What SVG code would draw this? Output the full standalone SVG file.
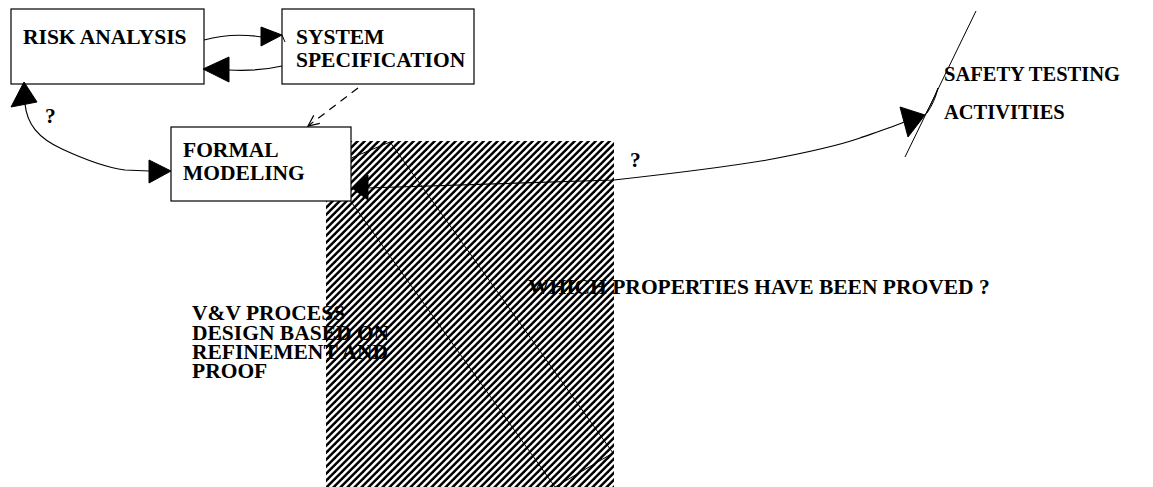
<svg xmlns="http://www.w3.org/2000/svg" width="1153" height="487" viewBox="0 0 1153 487">
  <style>
    .box { fill: #fff; stroke: #000; stroke-width: 1.2; }
    .t { font-family: "Liberation Serif", "Times New Roman", serif; font-weight: bold; font-size: 21.5px; fill: #000; }
    .ts { font-family: "Liberation Serif", "Times New Roman", serif; font-weight: bold; font-size: 20.5px; fill: #000; }
    .ln { fill: none; stroke: #000; stroke-width: 1.2; }
    .thin { fill: none; stroke: #000; stroke-width: 1; }
    .ah { fill: #000; stroke: #000; stroke-width: 1; stroke-linejoin: miter; }
    .dash { fill: none; stroke: #000; stroke-width: 1.2; stroke-dasharray: 8 6; }
  </style>
  <defs>
    <pattern id="hatch" patternUnits="userSpaceOnUse" x="0" y="0" width="7" height="7">
      <rect width="7" height="7" fill="#fff"/>
      <polygon points="0,0 3.5,0 0,3.5" fill="#000"/>
      <polygon points="7,0 7,3.5 3.5,7 0,7" fill="#000"/>
    </pattern>
    <marker id="open" markerUnits="userSpaceOnUse" markerWidth="16" markerHeight="16" refX="0" refY="0" viewBox="-14 -8 16 16" orient="auto" overflow="visible">
      <path d="M-11,-5 L0,0 L-11,5" fill="none" stroke="#000" stroke-width="1.2"/>
    </marker>
  </defs>
  <rect width="1153" height="487" fill="#fff"/>

  <g id="vv-process">
    <rect x="326" y="141" width="288" height="346" fill="url(#hatch)"/>
    <polygon points="327,168 390,142 613,453 555,487" class="thin"/>
    <text class="t" x="192" y="320">V&amp;V PROCESS</text>
    <text class="t" x="192" y="340">DESIGN BASED ON</text>
    <text class="t" x="192" y="359">REFINEMENT AND</text>
    <text class="t" x="192" y="378">PROOF</text>
  </g>

  <g id="proved-label">
    <text class="t" x="528" y="294">WHICH PROPERTIES HAVE BEEN PROVED ?</text>
  </g>

  <g id="risk-analysis">
    <rect class="box" x="11" y="9" width="193" height="75"/>
    <text class="t" x="23" y="44">RISK ANALYSIS</text>
  </g>

  <g id="system-specification">
    <rect class="box" x="282" y="9" width="192" height="75"/>
    <text class="t" x="296" y="44">SYSTEM</text>
    <text class="t" x="296" y="67">SPECIFICATION</text>
  </g>

  <g id="formal-modeling">
    <rect class="box" x="171" y="127" width="180" height="74"/>
    <text class="t" x="183" y="157">FORMAL</text>
    <text class="t" x="183" y="180">MODELING</text>
  </g>

  <g id="safety-testing">
    <line class="thin" x1="976" y1="11" x2="905" y2="157"/>
    <text class="ts" x="944" y="81">SAFETY TESTING</text>
    <text class="ts" x="944" y="119">ACTIVITIES</text>
  </g>

  <g id="connectors">
    <!-- risk -> spec -->
    <path class="ln" d="M204,40 C222,35 242,34 262,37"/>
    <polygon class="ah" points="261,27 282,35 261,46"/>
    <path class="thin" d="M282,35 L285,42"/>
    <!-- spec -> risk -->
    <path class="ln" d="M282,66 C265,70 250,71 229,70"/>
    <polygon class="ah" points="229,57 203,69 229,82"/>
    <!-- risk <-> formal -->
    <polygon class="ah" points="24,82 11,107 37,102"/>
    <path class="ln" d="M25,104 C27,124 38,138 62,149 C90,162 110,168 125,170 L149,171"/>
    <polygon class="ah" points="149,160 171,171 149,183"/>
    <text class="t" x="45" y="123">?</text>
    <!-- spec -> formal (dashed) -->
    <path class="dash" d="M358,88 L308,126" marker-end="url(#open)"/>
    <!-- formal <-> safety -->
    <polygon class="ah" points="368,175 352,188 368,200"/>
    <path class="ln" d="M367,188 L614,180 C650,176 720,168 767,160 C810,152 840,145 860,138 C880,131 895,126 904,122"/>
    <polygon class="ah" points="900,107 925,115 908,137"/>
    <path class="thin" d="M925,115 C931,105 935,96 938,88 C936,97 932,106 927,113"/>
    <text class="t" x="630" y="167">?</text>
  </g>
</svg>
